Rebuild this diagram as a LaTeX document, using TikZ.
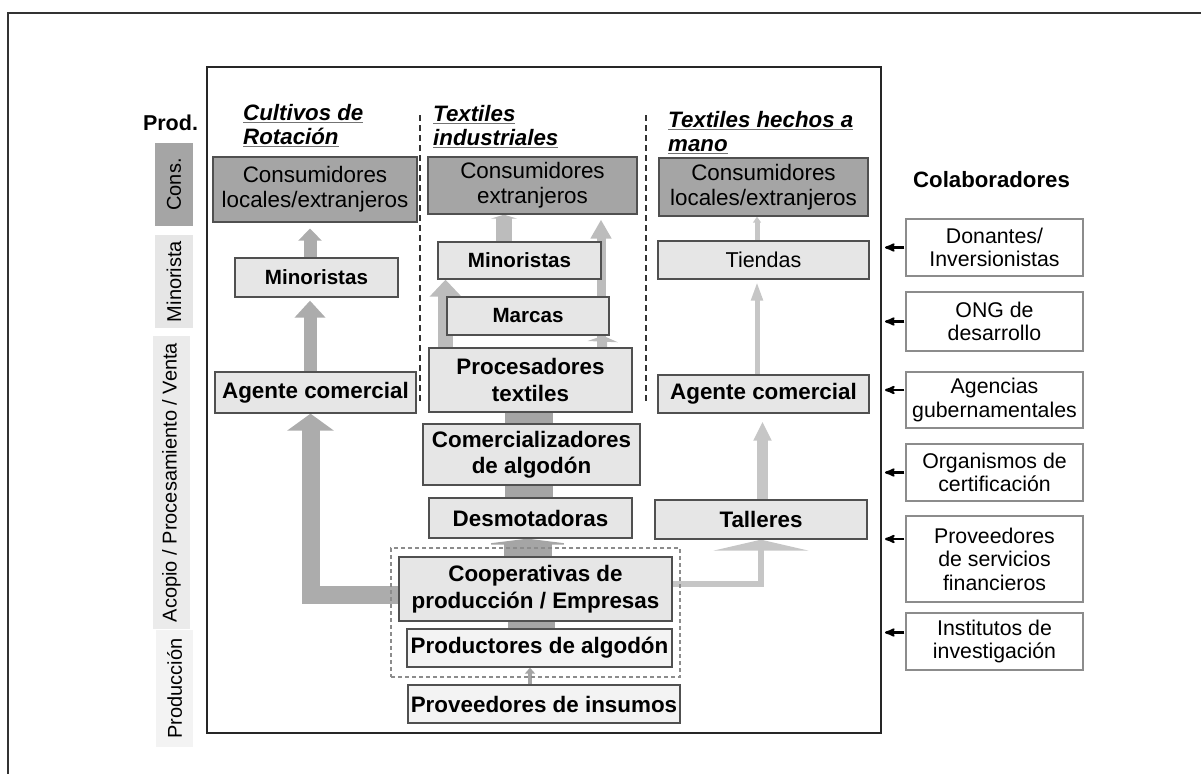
\documentclass[tikz,border=0pt]{standalone}
\usepackage{fontspec}
\setmainfont{Liberation Sans}
\usepackage{tikz}
\usetikzlibrary{arrows}
\usetikzlibrary{arrows.meta}

\definecolor{consgray}{RGB}{165,165,165}
\definecolor{boxgray}{RGB}{230,230,230}
\definecolor{palegray}{RGB}{243,243,243}
\definecolor{edgegray}{RGB}{80,80,80}
\definecolor{flowA}{RGB}{172,172,172}
\definecolor{flowB}{RGB}{165,165,165}
\definecolor{flowC}{RGB}{188,188,188}
\definecolor{flowD}{RGB}{198,198,198}

\newcommand{\headline}[1]{{\color{black!55}\underline{\color{black}#1}}}

\pgfdeclarelayer{background}
\pgfsetlayers{background,main}

\begin{document}
\begin{tikzpicture}[x=1pt,y=-1pt,>=stealth',
	stage/.style={rectangle,draw=edgegray,line width=1.3pt,inner sep=0pt,align=center},
	cons node/.style={stage,fill=consgray,font=\fontsize{22.4}{25}\selectfont},
	mid node/.style={stage,fill=boxgray,font=\fontsize{20.6}{24}\selectfont\bfseries},
	big node/.style={stage,fill=boxgray,font=\fontsize{22.4}{26.5}\selectfont\bfseries},
	pale node/.style={stage,fill=palegray,font=\fontsize{22.4}{26}\selectfont\bfseries},
	side node/.style={rotate=90,inner sep=0pt,font=\fontsize{20}{22}\selectfont},
	head text/.style={anchor=west,align=left,inner sep=0pt,font=\fontsize{22.3}{24}\selectfont\bfseries\itshape},
	colab node/.style={rectangle,draw=black!45,line width=1.3pt,fill=white,inner sep=0pt,align=center,minimum width=177pt,font=\fontsize{21.3}{23.5}\selectfont},
	block/.style n args={3}{line width=#1,-{Triangle[width=#2,length=#3]},line join=miter},
	help arrow/.style={->,line width=2.2pt,black,shorten >=3pt,shorten <=1pt},
	sep line/.style={line width=1.5pt,black!80,dash pattern=on 6pt off 4pt},
	group line/.style={line width=1.2pt,black!45,dash pattern=on 4pt off 3pt}]

	\useasboundingbox (0,0) rectangle (1201,774);
	\draw[line width=1.3pt,black!80] (1201,13) -- (8,13) -- (8,774);

	% main frame
	\node[draw=black!85,line width=2pt,inner sep=0pt,minimum width=674pt,minimum height=666pt] (frame) at (544,400) {};

	% stages on the left
	\node[font=\fontsize{21.5}{24}\selectfont\bfseries] (prodh) at (170.5,123) {Prod.};
	\node[side node,fill=consgray,minimum width=83pt,minimum height=38pt] (scons) at (174,184.5) {Cons.};
	\node[side node,fill=boxgray,minimum width=93pt,minimum height=38pt] (smin) at (174,281.5) {Minorista};
	\node[side node,fill=boxgray!80,minimum width=293pt,minimum height=37pt] (sacop) at (171.5,482.5) {Acopio / Procesamiento / Venta};
	\node[side node,fill=palegray,minimum width=117pt,minimum height=37pt] (sprod) at (174.5,688.5) {Producción};

	% column titles
	\node[head text] (h1) at (243,125.5) {\headline{Cultivos de}\\\headline{Rotación}};
	\node[head text] (h2) at (433,127) {\headline{Textiles}\\\headline{industriales}};
	\node[head text] (h3) at (668,133) {\headline{Textiles hechos a}\\\headline{mano}};
	\draw[sep line] (420,115) -- (420,403);
	\draw[sep line] (646,115) -- (646,403);

	% rotation crops
	\node[cons node,minimum width=204pt,minimum height=65pt] (con1) at (315,189.5) {Consumidores\\locales/extranjeros};
	\node[mid node,minimum width=163pt,minimum height=39pt] (min1) at (316.5,277.5) {Minoristas};
	\node[big node,minimum width=201pt,minimum height=41pt] (age1) at (315.5,392.5) {Agente comercial};

	% industrial textiles
	\node[cons node,minimum width=209pt,minimum height=57pt] (con2) at (532.5,185.5) {Consumidores\\extranjeros};
	\node[mid node,minimum width=163pt,minimum height=37pt] (min2) at (519.5,260.5) {Minoristas};
	\node[mid node,minimum width=162pt,minimum height=38pt] (mar2) at (528,316) {Marcas};
	\node[big node,minimum width=203pt,minimum height=64pt] (pro2) at (530.5,380) {Procesadores\\textiles};
	\node[big node,minimum width=217pt,minimum height=61pt] (com2) at (531.5,454.5) {Comercializadores\\de algodón};
	\node[big node,minimum width=203pt,minimum height=40pt] (des2) at (530.5,518) {Desmotadoras};
	\node[big node,minimum width=273pt,minimum height=64pt] (coop) at (535.5,589) {Cooperativas de\\producción / Empresas};
	\node[pale node,minimum width=265pt,minimum height=38pt] (prod) at (539.5,648) {Productores de algodón};
	\node[pale node,minimum width=272pt,minimum height=38pt] (insu) at (544,704) {Proveedores de insumos};
	\node[group line,draw,inner sep=0pt,minimum width=289pt,minimum height=129pt] (grp) at (535.5,612.5) {};

	% handmade textiles
	\node[cons node,minimum width=209pt,minimum height=58pt] (con3) at (763.5,187) {Consumidores\\locales/extranjeros};
	\node[stage,fill=boxgray,font=\fontsize{21.5}{24}\selectfont,minimum width=211pt,minimum height=38pt] (tien) at (763.5,260) {Tiendas};
	\node[big node,minimum width=211pt,minimum height=38pt] (age3) at (763.5,394) {Agente comercial};
	\node[big node,minimum width=212pt,minimum height=39pt] (tall) at (761,519.5) {Talleres};

	% collaborators
	\node[font=\fontsize{22.2}{24}\selectfont\bfseries] (colab) at (991.5,180) {Colaboradores};
	\node[colab node,minimum height=57pt] (don) at (994.5,247.5) {Donantes/\\Inversionistas};
	\node[colab node,minimum height=59pt] (ong) at (994.5,321.5) {ONG de\\desarrollo};
	\node[colab node,minimum height=56pt] (agc) at (994.5,400) {Agencias\\gubernamentales};
	\node[colab node,minimum height=57pt] (org) at (994.5,472.5) {Organismos de\\certificación};
	\node[colab node,minimum height=86pt] (fin) at (994.5,559) {Proveedores\\de servicios\\financieros};
	\node[colab node,minimum height=57pt] (ins) at (994.5,641.5) {Institutos de\\investigación};

	\foreach \n/\dy in {don/0,ong/0,agc/10,org/0,fin/20,ins/9}{
		\coordinate (\n p) at ([yshift=\dy pt]\n.west);
		\draw[help arrow] (\n p) -- (\n p -| frame.east);
	}

	\begin{pgfonlayer}{background}
		% rotation crops
		\draw[block={18pt}{46pt}{17pt},draw=flowA] ([yshift=-6pt]coop.west) -| ([xshift=-5pt]age1.south);
		\draw[block={13pt}{30pt}{17pt},draw=flowA,shorten >=3pt] ([xshift=-5.5pt]age1.north) -- ([xshift=-6.5pt]min1.south);
		\draw[block={13pt}{23pt}{12pt},draw=flowA,shorten >=6pt] ([xshift=-6.5pt]min1.north) -- ([xshift=-5pt]con1.south);
		% industrial textiles
		\draw[block={4.5pt}{10pt}{6pt},draw=flowB] ([xshift=-14pt]insu.north) -- ([xshift=-9.5pt]prod.south);
		\draw[line width=47pt,draw=flowB] ([xshift=-8pt]prod.north) -- ([xshift=-4pt]coop.south);
		\draw[block={48pt}{97pt}{6pt},draw=flowB] ([xshift=-8pt]coop.north) -- ([xshift=-3pt]des2.south);
		\draw[line width=48pt,draw=flowB] ([xshift=-2pt]des2.north) -- ([xshift=-2pt]pro2.south);
		\draw[block={15pt}{31pt}{17pt},draw=flowC] ([xshift=-85pt]pro2.north) -- ([xshift=-74pt]min2.south);
		\draw[block={16pt}{26pt}{4pt},draw=flowC] ([xshift=-15.5pt]min2.north) -- ([xshift=-28.5pt]con2.south);
		\draw[block={9pt}{20pt}{19pt},draw=flowC,shorten >=5pt] ([xshift=70.5pt]pro2.north) -- ([xshift=68.5pt]con2.south);
		\draw[block={9pt}{30pt}{6pt},draw=flowC] ([xshift=72pt]pro2.north) -- ([xshift=75pt]mar2.south);
		% handmade textiles
		\draw[block={6pt}{95pt}{11pt},draw=flowD] ([yshift=5pt]coop.east) -| (tall.south);
		\draw[block={11pt}{17pt}{19pt},draw=flowD,shorten >=8pt] ([xshift=1.5pt]tall.north) -- ([xshift=-1pt]age3.south);
		\draw[block={5pt}{11pt}{19pt},draw=flowD,shorten >=2pt] ([xshift=-6.5pt]age3.north) -- ([xshift=-6.5pt]tien.south);
		\draw[block={5pt}{8pt}{6pt},draw=flowD] ([xshift=-6.5pt]tien.north) -- ([xshift=-6.5pt]con3.south);
	\end{pgfonlayer}
\end{tikzpicture}
\end{document}
